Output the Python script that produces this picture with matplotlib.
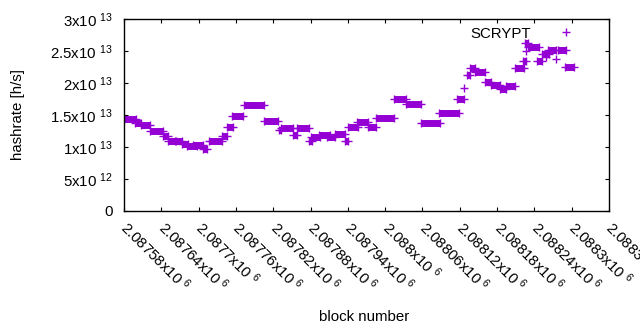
import matplotlib
matplotlib.use("Agg")
import matplotlib.pyplot as plt
from matplotlib.lines import Line2D

plt.rcParams['font.family'] = ['Liberation Sans', 'DejaVu Sans']
plt.rcParams['mathtext.fontset'] = 'custom'
plt.rcParams['mathtext.rm'] = 'Liberation Sans'
plt.rcParams['mathtext.it'] = 'Liberation Sans'

# runs of blocks sharing the same hashrate (first block, last block, rate)
seg_start = [2087580, 2087598, 2087607, 2087622, 2087643, 2087651, 2087663, 2087673,
             2087681, 2087691, 2087707, 2087716, 2087737, 2087745, 2087753, 2087773,
             2087805, 2087829, 2087832, 2087851, 2087858, 2087877, 2087880, 2087893,
             2087906, 2087920, 2087935, 2087940, 2087954, 2087972, 2087986, 2088014,
             2088034, 2088058, 2088086, 2088116, 2088131, 2088136, 2088145, 2088160,
             2088171, 2088184, 2088195, 2088209, 2088222, 2088225, 2088229, 2088245,
             2088253, 2088262, 2088278, 2088290]
seg_end = [2087599, 2087607, 2087622, 2087643, 2087651, 2087662, 2087673, 2087683,
           2087697, 2087707, 2087713, 2087737, 2087745, 2087755, 2087771, 2087805,
           2087827, 2087832, 2087851, 2087858, 2087877, 2087883, 2087895, 2087911,
           2087919, 2087936, 2087941, 2087956, 2087972, 2087986, 2088014, 2088034,
           2088058, 2088089, 2088119, 2088127, 2088136, 2088145, 2088161, 2088171,
           2088185, 2088195, 2088209, 2088224, 2088227, 2088230, 2088248, 2088253,
           2088264, 2088275, 2088291, 2088303]
seg_rate = [14.4e12, 13.75e12, 13.4e12, 12.45e12, 11.7e12, 10.9e12, 11.0e12, 10.4e12,
            10.2e12, 10.3e12, 9.7e12, 10.9e12, 11.7e12, 13.2e12, 14.8e12, 16.5e12,
            14.0e12, 12.7e12, 12.9e12, 11.9e12, 12.9e12, 11.0e12, 11.6e12, 11.8e12,
            11.5e12, 12.0e12, 11.0e12, 13.1e12, 13.9e12, 13.1e12, 14.6e12, 17.45e12,
            16.7e12, 13.7e12, 15.3e12, 17.55e12, 21.3e12, 22.4e12, 21.7e12, 20.2e12,
            19.7e12, 19.1e12, 19.6e12, 22.3e12, 23.4e12, 26.2e12, 25.7e12, 23.5e12,
            24.6e12, 25.2e12, 25.2e12, 22.45e12]

# lone blocks
single_block = [2088127, 2088227, 2088259, 2088275]
single_rate = [19.2e12, 25.0e12, 24.0e12, 23.8e12]

xticks = [2087580 + 60 * i for i in range(14)]
yticks = [0, 5e12, 1e13, 1.5e13, 2e13, 2.5e13, 3e13]
ytick_labels = ['0', '5x10 $^{12}$', '1x10 $^{13}$', '1.5x10 $^{13}$',
                '2x10 $^{13}$', '2.5x10 $^{13}$', '3x10 $^{13}$']

color = '#9400d3'
fs = 10.8

fig = plt.figure(figsize=(6.4, 3.3), dpi=100)
ax = fig.add_axes([124 / 640, 1 - 211 / 330, 485 / 640, 192 / 330])

for s, e, r in zip(seg_start, seg_end, seg_rate):
    ax.plot([s, e], [r, r], color=color, lw=5, solid_capstyle='butt',
            marker='+', ms=5.5, mew=1)
ax.plot(single_block, single_rate, ls='none', color=color, marker='+', ms=5.5, mew=1)

ax.set_xlim(xticks[0], xticks[-1])
ax.set_ylim(0, 3e13)
ax.set_xticks(xticks)
ax.set_xticklabels(['%gx10 $^{6}$' % (x / 1e6) for x in xticks],
                   rotation=-45, ha='left', va='center', rotation_mode='anchor')
ax.set_yticks(yticks)
ax.set_yticklabels(ytick_labels)
ax.tick_params(direction='in', length=3, width=0.8, top=True, right=True,
               labelsize=fs, colors='black')
ax.tick_params(axis='y', pad=8)
ax.tick_params(axis='x', pad=10)
for sp in ax.spines.values():
    sp.set_linewidth(1)

ax.set_ylabel('hashrate [h/s]', fontsize=fs)
ax.yaxis.set_label_coords(-0.205, 0.5)
ax.set_xlabel('block number', fontsize=fs)
ax.xaxis.set_label_coords(0.495, -0.515)

handle = Line2D([], [], ls='none', color=color, marker='+', ms=5.5, mew=1)
ax.legend([handle], ['SCRYPT'], loc='upper right', frameon=False,
          markerfirst=False, fontsize=fs, bbox_to_anchor=(0.962, 1.03),
          handlelength=1.5, handletextpad=1.6)

fig.savefig('out.png', dpi=100)
